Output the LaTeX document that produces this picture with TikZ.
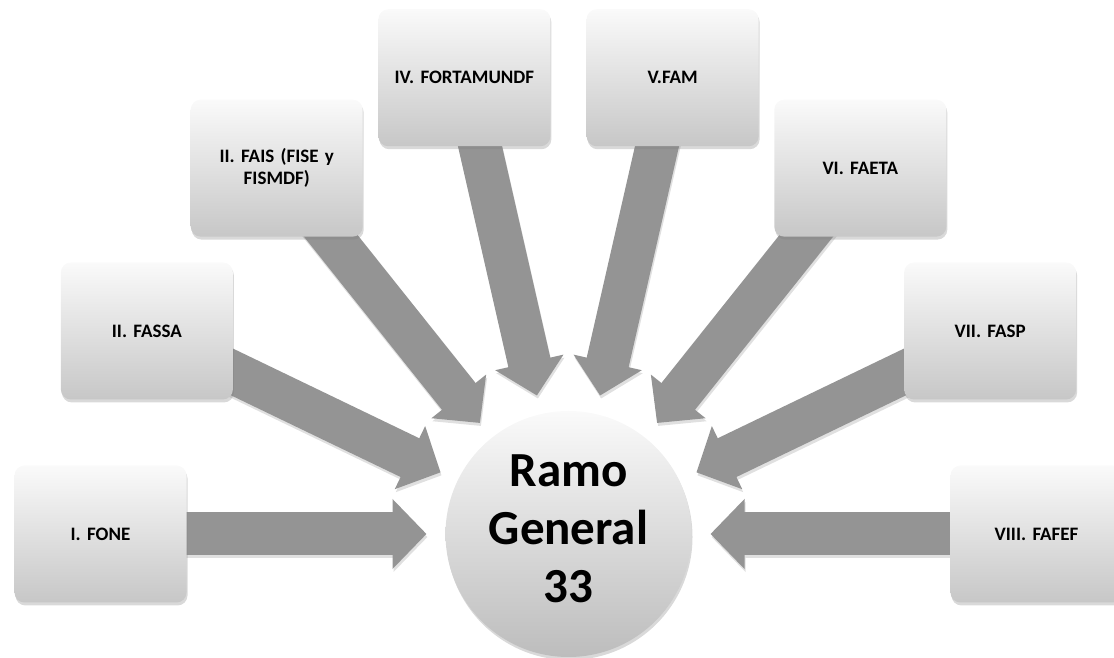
\documentclass[tikz,border=0pt]{standalone}
\usepackage{fontspec}
\setmainfont{Carlito}
\usetikzlibrary{calc,shadows,backgrounds,arrows.meta}
\tikzset{
  fundbox/.style={rectangle, rounded corners=10pt, minimum width=172pt, minimum height=137pt,
    top color=black!2, bottom color=black!22, draw=none, text width=156pt, align=center,
    font=\frenchspacing\bfseries\fontsize{19}{22}\selectfont, text=black,
    drop shadow={opacity=0.3, shadow xshift=1pt, shadow yshift=-3pt}},
  hub/.style={circle, minimum size=246pt, inner sep=0pt, top color=black!2, bottom color=black!26,
    draw=none, align=center, font=\bfseries\fontsize{49}{58}\selectfont, text=black,
    drop shadow={opacity=0.3, shadow xshift=1pt, shadow yshift=-3pt}},
  flow/.style={line width=43pt, color=black!42, -{Triangle[width=68pt,length=34pt]}},
  flowshadow/.style={line width=43pt, color=black!12, -{Triangle[width=68pt,length=34pt]},
    transform canvas={xshift=1pt,yshift=-3pt}},
}
\begin{document}
\begin{tikzpicture}[x=1pt,y=1pt]
\useasboundingbox (0,0) rectangle (1114,658);
\coordinate (C) at (568.5,124);
\node[hub] (hub) at (C) {Ramo\\General\\33\rule[-10pt]{0pt}{0pt}};
\node[fundbox] (b1) at ($(C)+(180:468)$) {I. FONE};
\node[fundbox] (b2) at ($(C)+(154.2857:468)$) {II. FASSA};
\node[fundbox] (b3) at ($(C)+(128.5714:468)$) {II. FAIS (FISE y\\FISMDF)};
\node[fundbox] (b4) at ($(C)+(102.8571:468)$) {IV. FORTAMUNDF};
\node[fundbox] (b5) at ($(C)+(77.1429:468)$) {V.FAM};
\node[fundbox] (b6) at ($(C)+(51.4286:468)$) {VI. FAETA};
\node[fundbox] (b7) at ($(C)+(25.7143:468)$) {VII. FASP};
\node[fundbox] (b8) at ($(C)+(0:468)$) {VIII. FAFEF};
\foreach \i/\a in {1/180,2/154.2857,3/128.5714,4/102.8571,5/77.1429,6/51.4286,7/25.7143,8/0}{
  \coordinate (t\i) at ($(C)+(\a:142)$);
}
\begin{scope}[on background layer]
  \foreach \i in {1,...,8}{
    \draw[flowshadow] (b\i.center) -- (t\i);
  }
  \foreach \i in {1,...,8}{
    \draw[flow] (b\i.center) -- (t\i);
  }
\end{scope}
\end{tikzpicture}
\end{document}
